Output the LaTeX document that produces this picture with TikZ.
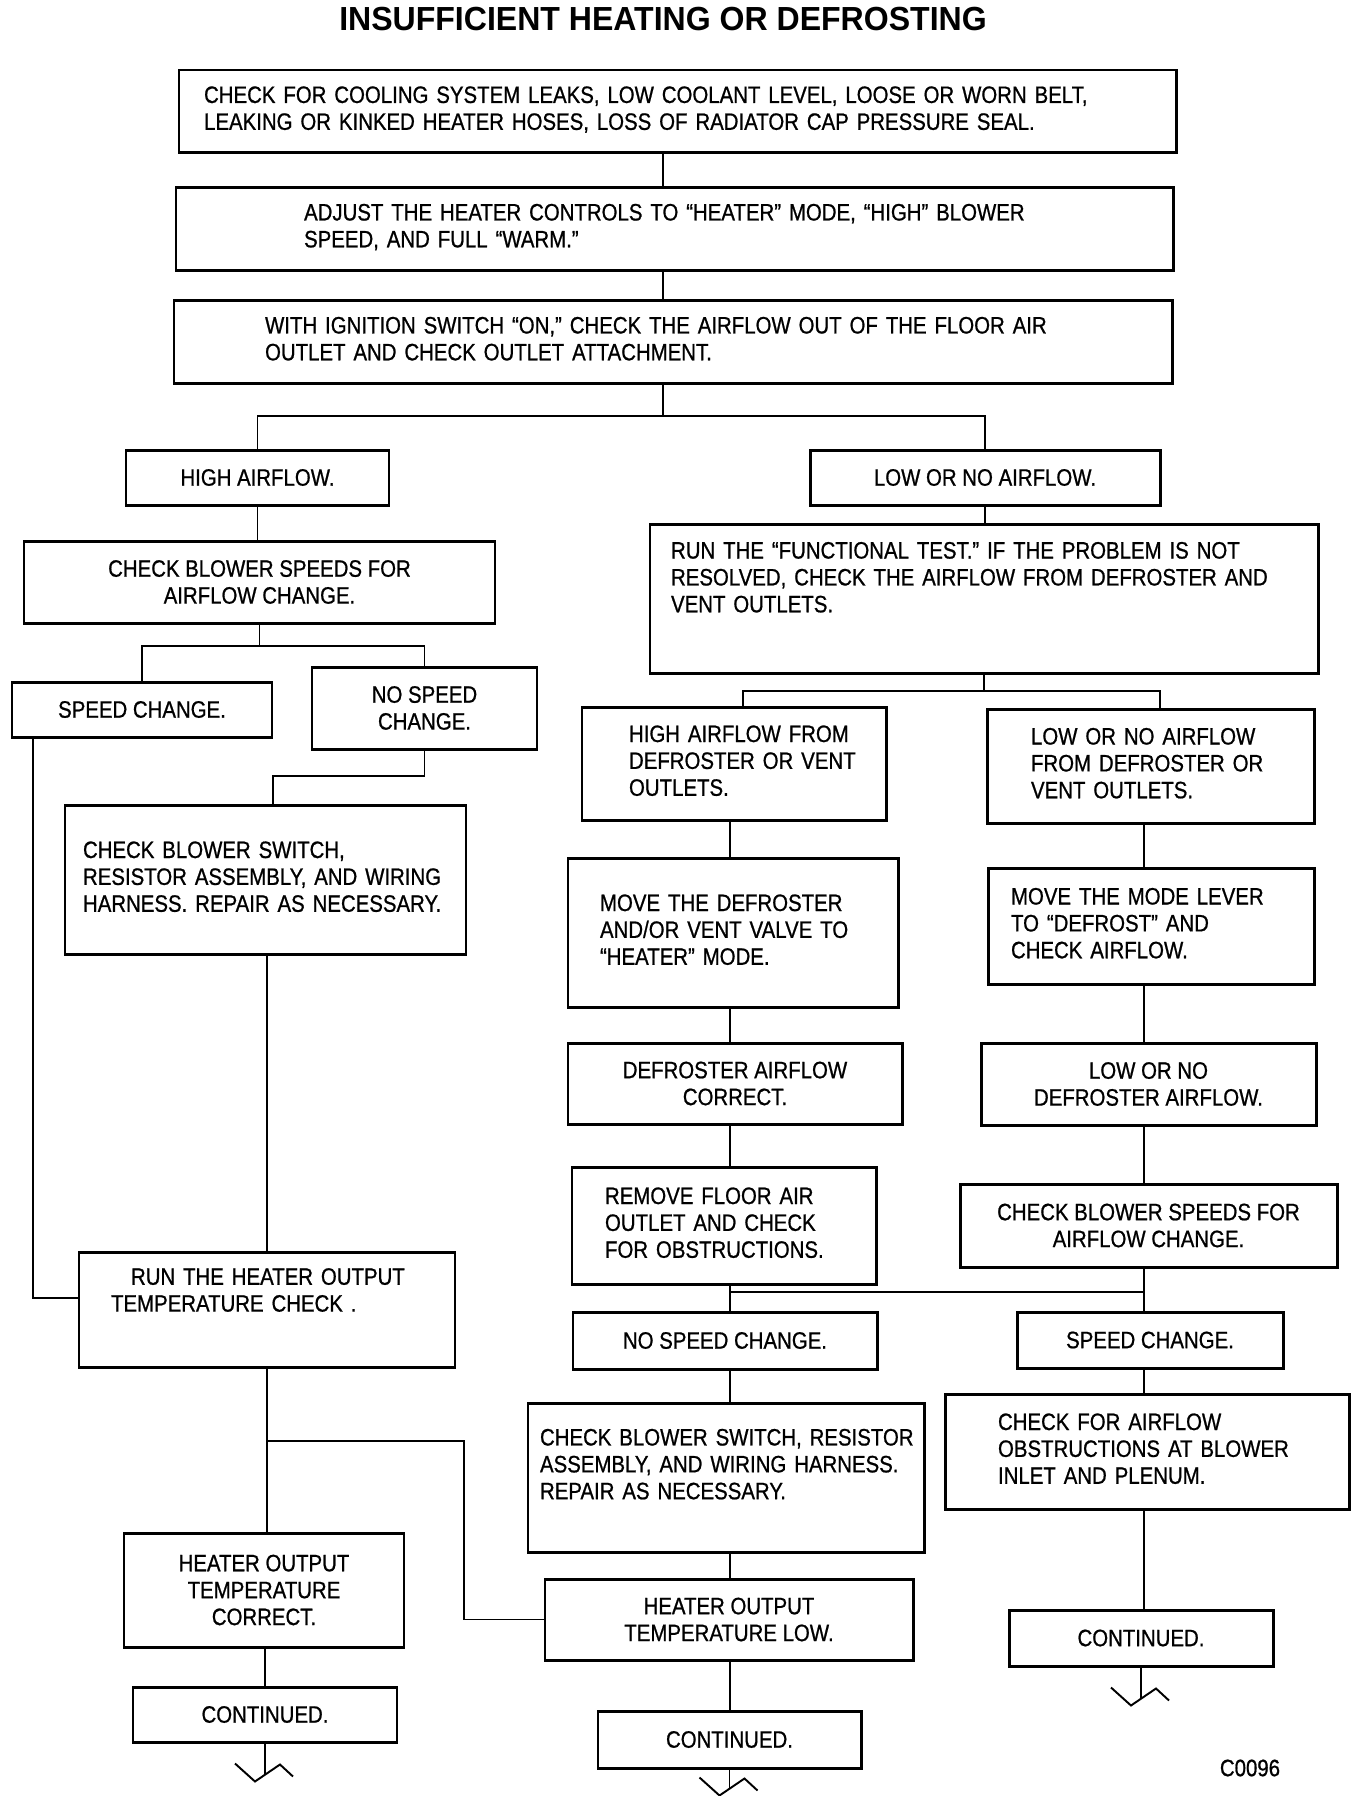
\documentclass[tikz,border=0pt]{standalone}
\usepackage{fontspec}
\setmainfont{Liberation Sans}[FakeStretch=0.86, FakeBold=0.8]
\newfontfamily\titlefont{Liberation Sans}[FakeStretch=0.96]
\newlength\pxu
\setlength\pxu{0.02cm}
% indented block of lines inside a box
\newcommand\boxlines[2]{\hspace*{#1\pxu}\begin{tabular}{@{}l@{}}#2\end{tabular}}
% break mark under a CONTINUED box
\newcommand\contbreak[2]{%
  \draw[conn] (#1.south) -- ++(0,#2+31);
  \draw[conn] ([shift={(-30,#2+20)}]#1.south) -- ++(20,18) -- ++(25,-17) -- ++(13,12);
}

\begin{document}
\begin{tikzpicture}[x=0.02cm, y=-0.02cm,
    box/.style 2 args={draw, line width=1.7pt, minimum width=#1*0.02cm,
      minimum height=#2*0.02cm, inner xsep=0.08cm, inner ysep=0pt,
      align=center, font=\fontsize{13.5}{15.3}\selectfont},
    lb/.style={align=left, text width=#1},
    conn/.style={line width=1.1pt}]

    \fill[white] (0,0) rectangle (1360,1796);
    \useasboundingbox (0,0) rectangle (1360,1796);

    \coordinate (J1) at (663,416);
    \coordinate (J2) at (258,646);
    \coordinate (J3) at (273,776);
    \coordinate (J4) at (33,1298);
    \coordinate (J5) at (464,1441);
    \coordinate (J6) at (743,691);
    \coordinate (J7) at (1160,691);
    \coordinate (XM) at (730,1292);
    \coordinate (XR) at (1144,1292);

%top boxes
    \node[font=\titlefont\fontsize{19}{22}\selectfont\bfseries] (title) at (663,19) {INSUFFICIENT HEATING OR DEFROSTING};
    \node[box={997}{82}, lb=19.78cm] (T1) at (677.5,111) {\boxlines{21}{CHECK FOR COOLING SYSTEM LEAKS, LOW COOLANT LEVEL, LOOSE OR WORN BELT,\\ LEAKING OR KINKED HEATER HOSES, LOSS OF RADIATOR CAP PRESSURE SEAL.}};
    \node[box={997}{83}, lb=19.78cm] (T2) at (674.5,228.5) {\boxlines{124}{ADJUST THE HEATER CONTROLS TO ``HEATER'' MODE, ``HIGH'' BLOWER\\ SPEED, AND FULL ``WARM.''}};
    \node[box={998}{83}, lb=19.8cm] (T3) at (673,341.5) {\boxlines{87}{WITH IGNITION SWITCH ``ON,'' CHECK THE AIRFLOW OUT OF THE FLOOR AIR\\ OUTLET AND CHECK OUTLET ATTACHMENT.}};

%left column
    \node[box={263}{55}] (L1) at (257.5,477.5) {HIGH AIRFLOW.};
    \node[box={471}{82}] (L2) at (259.5,582) {CHECK BLOWER SPEEDS FOR\\ AIRFLOW CHANGE.};
    \node[box={260}{55}] (L3) at (142,709.5) {SPEED CHANGE.};
    \node[box={225}{82}] (L4) at (424.5,708) {NO SPEED\\ CHANGE.};
    \node[box={401}{149}, lb=7.86cm] (L5) at (265.5,879.5) {\boxlines{14}{CHECK BLOWER SWITCH,\\ RESISTOR ASSEMBLY, AND WIRING\\ HARNESS. REPAIR AS NECESSARY.}};
    \node[box={376}{115}, lb=7.36cm] (L6) at (267,1309.5) {\boxlines{28}{\hspace*{20\pxu}RUN THE HEATER OUTPUT\\ TEMPERATURE CHECK .\\[19pt]}};
    \node[box={280}{114}] (L7) at (264,1590) {HEATER OUTPUT\\ TEMPERATURE\\ CORRECT.};
    \node[box={264}{55}] (L8) at (265,1714.5) {CONTINUED.};

%middle and right columns
    \node[box={350}{55}] (R1) at (985,477.5) {LOW OR NO AIRFLOW.};
    \node[box={668}{149}, lb=13.2cm] (R2) at (984,598.5) {\boxlines{17}{RUN THE ``FUNCTIONAL TEST.'' IF THE PROBLEM IS NOT\\ RESOLVED, CHECK THE AIRFLOW FROM DEFROSTER AND\\ VENT OUTLETS.\\[21pt]}};
    \node[box={304}{113}, lb=5.92cm] (M2) at (734,763.5) {\boxlines{43}{HIGH AIRFLOW FROM\\ DEFROSTER OR VENT\\ OUTLETS.}};
    \node[box={327}{114}, lb=6.38cm] (R3) at (1150.5,766) {\boxlines{40}{LOW OR NO AIRFLOW\\ FROM DEFROSTER OR\\ VENT OUTLETS.}};
    \node[box={330}{149}, lb=6.44cm] (M3) at (733,932.5) {\boxlines{28}{MOVE THE DEFROSTER\\ AND/OR VENT VALVE TO\\ ``HEATER'' MODE.}};
    \node[box={326}{116}, lb=6.36cm] (R4) at (1151,926) {\boxlines{19}{MOVE THE MODE LEVER\\ TO ``DEFROST'' AND\\ CHECK AIRFLOW.}};
    \node[box={334}{81}] (M4) at (735,1083.5) {DEFROSTER AIRFLOW\\ CORRECT.};
    \node[box={335}{82}] (R5) at (1148.5,1084) {LOW OR NO\\ DEFROSTER AIRFLOW.};
    \node[box={304}{117}, lb=5.92cm] (M5) at (724,1225.5) {\boxlines{29}{REMOVE FLOOR AIR\\ OUTLET AND CHECK\\ FOR OBSTRUCTIONS.}};
    \node[box={377}{83}] (R6) at (1148.5,1225.5) {CHECK BLOWER SPEEDS FOR\\ AIRFLOW CHANGE.};
    \node[box={304}{57}] (M6) at (725,1340.5) {NO SPEED CHANGE.};
    \node[box={266}{56}] (R7) at (1150,1340) {SPEED CHANGE.};
    \node[box={396}{149}, lb=7.76cm] (M7) at (726,1477.5) {\boxlines{8}{CHECK BLOWER SWITCH, RESISTOR\\ ASSEMBLY, AND WIRING HARNESS.\\ REPAIR AS NECESSARY.\\[12pt]}};
    \node[box={404}{115}, lb=7.92cm] (R8) at (1147,1451.5) {\boxlines{49}{CHECK FOR AIRFLOW\\ OBSTRUCTIONS AT BLOWER\\ INLET AND PLENUM.}};
    \node[box={368}{81}] (M8) at (729,1619.5) {HEATER OUTPUT\\ TEMPERATURE LOW.};
    \node[box={263}{57}] (M9) at (729.5,1739.5) {CONTINUED.};
    \node[box={264}{56}] (R9) at (1141,1638) {CONTINUED.};
    \node[font=\fontsize{13.5}{15.3}\selectfont] (code) at (1250,1768) {C0096};

%connectors
    \draw[conn] (T1.south -| J1) -- (T2.north -| J1);
    \draw[conn] (T2.south -| J1) -- (T3.north -| J1);
    \draw[conn] (T3.south -| J1) -- (J1);
    \draw[conn] (L1.north) |- (J1) -| (R1.north);

    \draw[conn] (L1.south) -- (L1.south |- L2.north);
    \draw[conn] (L2.south) -- (L2.south |- J2);
    \draw[conn] (L3.north) |- (J2) -| (L4.north);
    \draw[conn] (L4.south) |- (J3) -- (J3 |- L5.north);
    \draw[conn] (L3.south -| J4) -- (J4) -- (L6.west |- J4);
    \draw[conn] (L5.south -| L6.north) -- (L6.north);
    \draw[conn] (L6.south) -- (L7.north -| L6.south);
    \draw[conn] (L6.south |- J5) -- (J5) |- (M8.west);
    \draw[conn] (L7.south -| L8.north) -- (L8.north);
    \contbreak{L8}{0}

    \draw[conn] (R1.south) -- (R1.south |- R2.north);
    \draw[conn] (R2.south) -- (R2.south |- J6);
    \draw[conn] (M2.north -| J6) -- (J6) -- (J7) -- (J7 |- R3.north);
    \draw[conn] (M2.south -| XM) -- (M3.north -| XM);
    \draw[conn] (M3.south -| XM) -- (M4.north -| XM);
    \draw[conn] (M4.south -| XM) -- (M5.north -| XM);
    \draw[conn] (M5.south -| XM) -- (M6.north -| XM);
    \draw[conn] (XM) -- (XR);
    \draw[conn] (M6.south -| XM) -- (M7.north -| XM);
    \draw[conn] (M7.south -| XM) -- (M8.north -| XM);
    \draw[conn] (M8.south -| XM) -- (M9.north -| XM);
    \contbreak{M9}{-12}

    \draw[conn] (R3.south -| XR) -- (R4.north -| XR);
    \draw[conn] (R4.south -| XR) -- (R5.north -| XR);
    \draw[conn] (R5.south -| XR) -- (R6.north -| XR);
    \draw[conn] (R6.south -| XR) -- (R7.north -| XR);
    \draw[conn] (R7.south -| XR) -- (R8.north -| XR);
    \draw[conn] (R8.south -| XR) -- (R9.north -| XR);
    \contbreak{R9}{0}

\end{tikzpicture}
\end{document}
